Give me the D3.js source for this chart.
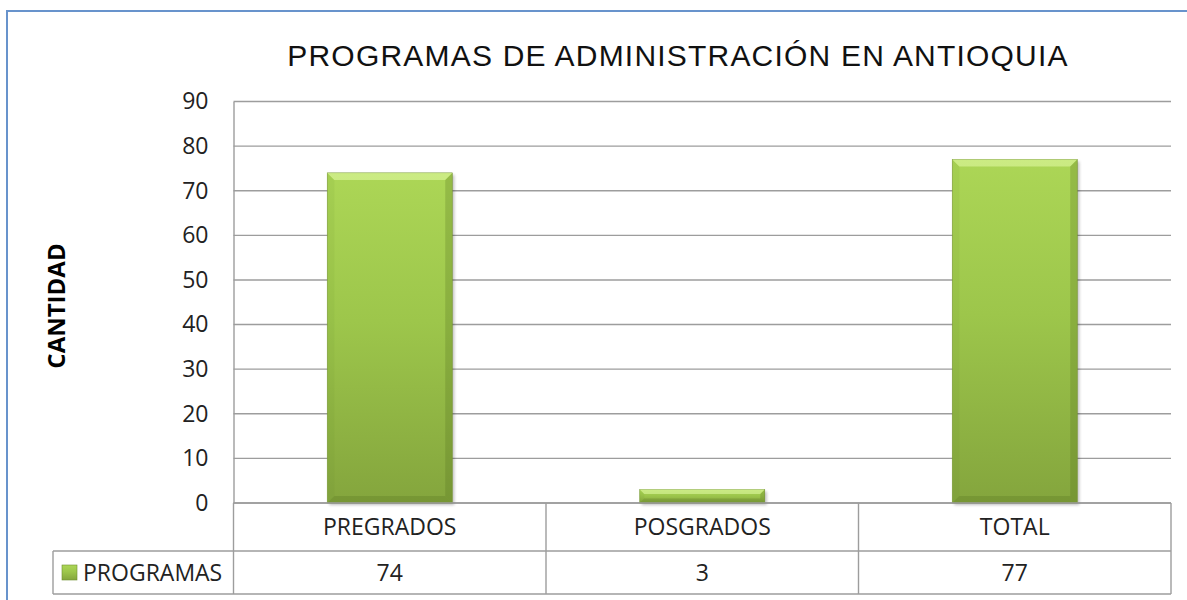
<!DOCTYPE html>
<html>
<head>
<meta charset="utf-8">
<script src="https://cdn.jsdelivr.net/npm/d3@7"></script>
<style>
  body { margin: 0; background: #fff; }
  svg { display: block; }
</style>
</head>
<body>
<svg></svg>
<script>
"use strict";

var categories = ["PREGRADOS", "POSGRADOS", "TOTAL"];
var values = [74, 3, 77];
var seriesName = "PROGRAMAS";
var yTicks = [0, 10, 20, 30, 40, 50, 60, 70, 80, 90];
var title = "PROGRAMAS DE ADMINISTRACIÓN EN ANTIOQUIA";
var yLabel = "CANTIDAD";

var width = 1187, height = 600;
var svg = d3.select("svg").attr("width", width).attr("height", height);

var plot = { left: 233.5, right: 1171, top: 101.5, bottom: 503 };
var rowH = 46, legendLeft = 53;
var tickFont = "'Open Sans', Lato, sans-serif";

var defs = svg.append("defs");
var grad = defs.append("linearGradient").attr("id", "barGrad")
  .attr("x1", 0).attr("y1", 0).attr("x2", 0).attr("y2", 1);
grad.append("stop").attr("offset", "0").attr("stop-color", "#acd656");
grad.append("stop").attr("offset", "0.45").attr("stop-color", "#9dc64b");
grad.append("stop").attr("offset", "1").attr("stop-color", "#84a53d");

var shadow = defs.append("filter").attr("id", "shadow")
  .attr("x", "-10%").attr("y", "-10%").attr("width", "130%").attr("height", "130%");
shadow.append("feGaussianBlur").attr("stdDeviation", 1.5);

// outer frame
svg.append("rect")
  .attr("x", 7).attr("y", 11).attr("width", 1300).attr("height", 700)
  .attr("fill", "none").attr("stroke", "#6893cc").attr("stroke-width", 2);

svg.append("text")
  .attr("x", 678).attr("y", 66)
  .attr("text-anchor", "middle")
  .style("font-family", "'Liberation Sans', Arial, sans-serif")
  .style("font-size", "30px")
  .style("letter-spacing", "1.2px")
  .attr("fill", "#111")
  .text(title);

var y = d3.scaleLinear().domain([0, 90]).range([plot.bottom, plot.top]);
var cell = d3.scaleBand().domain(categories).range([plot.left, plot.right]).padding(0);
var x = d3.scaleBand().domain(categories).range([plot.left, plot.right])
  .paddingInner(0.6).paddingOuter(0.3);

// gridlines
svg.append("g").selectAll("line").data(yTicks).enter().append("line")
  .attr("x1", plot.left).attr("x2", plot.right)
  .attr("y1", function (d) { return y(d); })
  .attr("y2", function (d) { return y(d); })
  .attr("stroke", "#9d9d9d").attr("stroke-width", 1.4);

// y axis
var yAxis = svg.append("g")
  .attr("transform", "translate(" + plot.left + ",0)")
  .call(d3.axisLeft(y).tickValues(yTicks).tickSize(0).tickPadding(25));
yAxis.select(".domain").attr("stroke", "#9d9d9d").attr("stroke-width", 1.4);
yAxis.selectAll("text")
  .style("font-family", tickFont).style("font-size", "23px").attr("fill", "#222");

svg.append("text")
  .attr("transform", "translate(65,306) rotate(-90)")
  .attr("text-anchor", "middle")
  .style("font-family", "'Open Sans', Lato, sans-serif")
  .style("font-size", "24px").style("font-weight", "bold")
  .text(yLabel);

// bars
var bars = svg.append("g").selectAll("g").data(values).enter().append("g");

function geom(d, i) {
  var x0 = x(categories[i]), x1 = x0 + x.bandwidth();
  var y0 = y(d), y1 = y(0);
  var b = Math.min(7, (y1 - y0) / 3);
  return { x0: x0, x1: x1, y0: y0, y1: y1, b: b };
}

bars.append("rect")
  .attr("x", function (d, i) { return geom(d, i).x0 + 2; })
  .attr("y", function (d, i) { return geom(d, i).y0 + 2; })
  .attr("width", x.bandwidth())
  .attr("height", function (d, i) { var g = geom(d, i); return g.y1 - g.y0; })
  .attr("fill", "#000").attr("opacity", 0.25).attr("filter", "url(#shadow)");

bars.append("rect")
  .attr("x", function (d, i) { return geom(d, i).x0; })
  .attr("y", function (d, i) { return geom(d, i).y0; })
  .attr("width", x.bandwidth())
  .attr("height", function (d, i) { var g = geom(d, i); return g.y1 - g.y0; })
  .attr("fill", "url(#barGrad)")
  .attr("stroke", "#7a9a36").attr("stroke-width", 0.6);

function poly(fn, fill, op) {
  bars.append("polygon")
    .attr("points", function (d, i) {
      var g = geom(d, i);
      return fn(g).map(function (p) { return p.join(","); }).join(" ");
    })
    .attr("fill", fill).attr("opacity", op);
}
poly(function (g) { return [[g.x0, g.y0], [g.x1, g.y0], [g.x1 - g.b, g.y0 + g.b], [g.x0 + g.b, g.y0 + g.b]]; }, "#eaffb0", 0.5);
poly(function (g) { return [[g.x0, g.y0], [g.x0 + g.b, g.y0 + g.b], [g.x0 + g.b, g.y1 - g.b], [g.x0, g.y1]]; }, "#5d7a22", 0.08);
poly(function (g) { return [[g.x1, g.y0], [g.x1, g.y1], [g.x1 - g.b, g.y1 - g.b], [g.x1 - g.b, g.y0 + g.b]]; }, "#4f6a1a", 0.25);
poly(function (g) { return [[g.x0, g.y1], [g.x1, g.y1], [g.x1 - g.b, g.y1 - g.b], [g.x0 + g.b, g.y1 - g.b]]; }, "#4f6a1a", 0.25);

// data table
var table = svg.append("g");
var lineColor = "#9d9d9d";
var rowTop = plot.bottom, rowMid = plot.bottom + rowH + 2, rowBot = rowMid + 43;

table.append("line").attr("x1", plot.left).attr("x2", plot.right)
  .attr("y1", rowTop).attr("y2", rowTop).attr("stroke", lineColor).attr("stroke-width", 1.4);
table.append("line").attr("x1", legendLeft).attr("x2", plot.right)
  .attr("y1", rowMid).attr("y2", rowMid).attr("stroke", lineColor).attr("stroke-width", 1.4);
table.append("line").attr("x1", legendLeft).attr("x2", plot.right)
  .attr("y1", rowBot).attr("y2", rowBot).attr("stroke", lineColor).attr("stroke-width", 1.4);
table.append("line").attr("x1", legendLeft).attr("x2", legendLeft)
  .attr("y1", rowMid).attr("y2", rowBot).attr("stroke", lineColor).attr("stroke-width", 1.4);

var seps = [plot.left].concat(categories.map(function (c) { return cell(c) + cell.bandwidth(); }));
table.selectAll(".sep").data(seps).enter().append("line").attr("class", "sep")
  .attr("x1", function (d) { return d; }).attr("x2", function (d) { return d; })
  .attr("y1", rowTop).attr("y2", rowBot)
  .attr("stroke", lineColor).attr("stroke-width", 1.4);

table.selectAll(".cat").data(categories).enter().append("text").attr("class", "cat")
  .attr("x", function (d) { return cell(d) + cell.bandwidth() / 2; })
  .attr("y", (rowTop + rowMid) / 2)
  .attr("dy", "0.35em").attr("text-anchor", "middle")
  .style("font-family", tickFont).style("font-size", "23px").attr("fill", "#222")
  .text(function (d) { return d; });

table.selectAll(".val").data(values).enter().append("text").attr("class", "val")
  .attr("x", function (d, i) { return cell(categories[i]) + cell.bandwidth() / 2; })
  .attr("y", (rowMid + rowBot) / 2)
  .attr("dy", "0.35em").attr("text-anchor", "middle")
  .style("font-family", tickFont).style("font-size", "23px").attr("fill", "#222")
  .text(function (d) { return d; });

// legend key
table.append("rect")
  .attr("x", 62).attr("y", (rowMid + rowBot) / 2 - 7.5)
  .attr("width", 15).attr("height", 15)
  .attr("fill", "url(#barGrad)").attr("stroke", "#6f8f2f").attr("stroke-width", 0.6);
table.append("text")
  .attr("x", 83).attr("y", (rowMid + rowBot) / 2)
  .attr("dy", "0.35em")
  .style("font-family", tickFont).style("font-size", "23px").attr("fill", "#222")
  .text(seriesName);
</script>
</body>
</html>
